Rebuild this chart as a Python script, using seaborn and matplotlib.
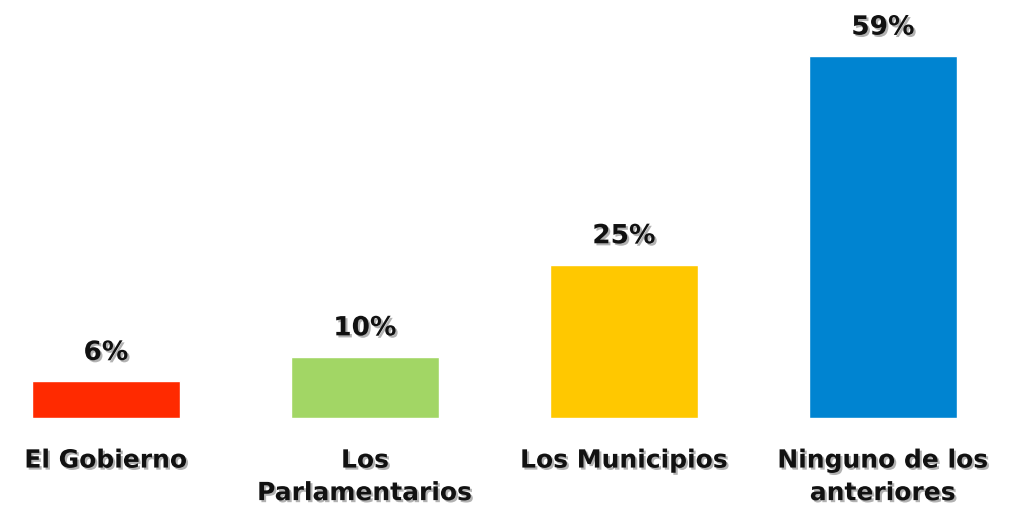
import matplotlib
matplotlib.use("Agg")
import matplotlib.pyplot as plt
import matplotlib.patheffects as pe
import seaborn as sns
import pandas as pd

# ----------------------------------------------------------
# DATOS
# ----------------------------------------------------------

categorias = ["El Gobierno", "Los\nParlamentarios", "Los Municipios", "Ninguno de los\nanteriores"]
valores = [6, 10, 25, 59]
etiquetas = ["6%", "10%", "25%", "59%"]
colores = ["#FF2A00", "#A2D665", "#FFC800", "#0084D1"]

df = pd.DataFrame({"categoria": categorias, "valor": valores})

sns.set_style("white")
plt.rcParams["font.family"] = ["DejaVu Sans"]

sombra = [pe.withSimplePatchShadow(offset=(1.5, -1.5), shadow_rgbFace="#555555", alpha=0.45)]

fig = plt.figure(figsize=(10.15, 5.09), dpi=100)
ax = fig.add_axes([0, 91 / 509, 1, 418 / 509])

sns.barplot(
    data=df,
    x="categoria",
    y="valor",
    hue="categoria",
    palette=colores,
    legend=False,
    width=0.57,
    saturation=1,
    ax=ax
)

ax.set_xlim(-0.409, 3.51)
ax.set_ylim(0, 68.1)

for i, (v, t) in enumerate(zip(valores, etiquetas)):
    ax.annotate(
        t, (i, v), xytext=(0, 11), textcoords="offset points",
        ha="center", va="bottom", fontsize=19, fontweight="bold",
        color="#111111", path_effects=sombra
    )

ax.set_xticks(range(len(categorias)))
ax.set_xticklabels(categorias, fontsize=18, fontweight="bold", color="#111111",
                   linespacing=1.45, va="top")
for lbl in ax.get_xticklabels():
    lbl.set_path_effects(sombra)
ax.tick_params(axis="x", length=0, pad=22)
ax.set_yticks([])
ax.set_xlabel("")
ax.set_ylabel("")
sns.despine(ax=ax, left=True, bottom=True)

fig.savefig("out.png", dpi=100)
